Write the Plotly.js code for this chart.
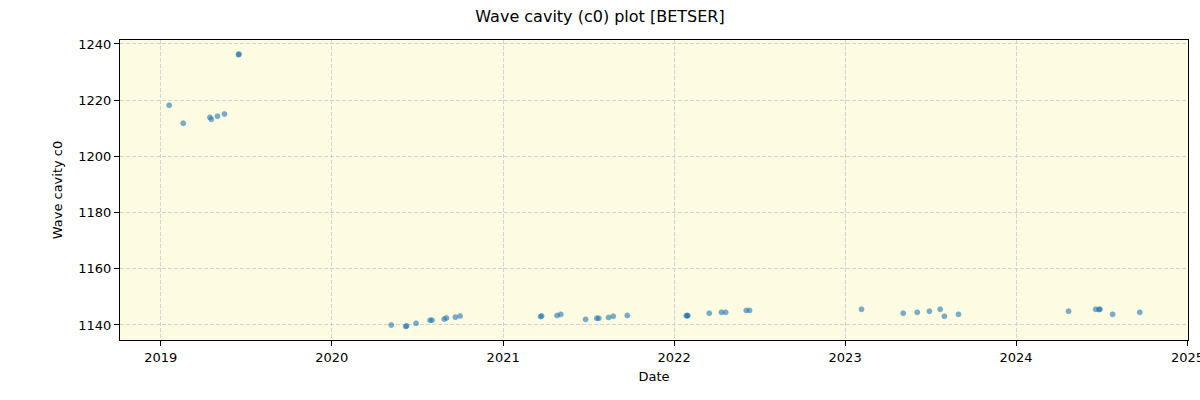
<!DOCTYPE html>
<html>
<head>
<meta charset="utf-8">
<script src="https://cdn.plot.ly/plotly-3.0.1.min.js"></script>
<style>html,body{margin:0;padding:0;background:#fff;}#chart{width:1200px;height:400px;}</style>
</head>
<body>
<div id="chart"></div>
<script>
const dates = [
  "2019-01-19","2019-02-18","2019-04-16","2019-04-19","2019-05-02","2019-05-17","2019-06-16","2019-06-17",
  "2020-05-07","2020-06-07","2020-06-09","2020-06-29","2020-07-29","2020-08-02","2020-08-28","2020-09-02","2020-09-21","2020-10-01",
  "2021-03-22","2021-03-24","2021-04-26","2021-05-04","2021-06-26","2021-07-20","2021-07-24","2021-08-14","2021-08-24","2021-09-23",
  "2022-01-27","2022-01-29","2022-01-30","2022-03-17","2022-04-12","2022-04-21","2022-06-04","2022-06-11",
  "2023-02-05","2023-05-05","2023-06-04","2023-06-30","2023-07-23","2023-08-01","2023-08-31",
  "2024-04-22","2024-06-19","2024-06-26","2024-06-28","2024-07-25","2024-09-21"
];
const c0 = [
  1218.2,1211.8,1213.9,1213.2,1214.3,1215.1,1236.2,1236.4,
  1140.0,1139.5,1139.7,1140.6,1141.7,1141.7,1142.1,1142.5,1142.8,1143.2,
  1143.0,1143.2,1143.4,1143.8,1142.0,1142.4,1142.4,1142.7,1143.1,1143.4,
  1143.3,1143.4,1143.3,1144.2,1144.5,1144.5,1145.2,1145.2,
  1145.6,1144.2,1144.5,1144.9,1145.6,1143.1,1143.8,
  1144.9,1145.6,1145.5,1145.6,1143.8,1144.5
];
const yTicks = [1140,1160,1180,1200,1220,1240];
const xTicks = ["2019-01-01","2020-01-01","2021-01-01","2022-01-01","2023-01-01","2024-01-01","2025-01-01"];
const xTickLabels = ["2019","2020","2021","2022","2023","2024","2025"];

const trace = {
  x: dates, y: c0, type: "scatter", mode: "markers",
  marker: {size: 5, color: "#1f77b4", opacity: 0.6, line: {width: 0.8, color: "#1f77b4"}},
  hoverinfo: "x+y"
};
const axisCommon = {
  showline: true, mirror: true, linecolor: "#000", linewidth: 1,
  ticks: "outside", ticklen: 5, tickcolor: "#000", tickwidth: 1,
  showgrid: true, gridcolor: "#d3d3d3", griddash: "4px,2px", gridwidth: 1,
  zeroline: false, ticklabeloverflow: "allow",
  tickfont: {family: "DejaVu Sans", size: 13, color: "#000"}
};
const layout = {
  width: 1200, height: 400,
  margin: {l: 120, r: 12, t: 40, b: 60},
  paper_bgcolor: "#ffffff",
  plot_bgcolor: "#fdfbe2",
  showlegend: false,
  font: {family: "DejaVu Sans", color: "#000"},
  title: {text: "Wave cavity (c0) plot [BETSER]", x: 0.5, xanchor: "center", y: 0.96, yanchor: "middle",
          font: {family: "DejaVu Sans", size: 16, color: "#000"}},
  xaxis: Object.assign({}, axisCommon, {
    type: "date", range: ["2018-10-06", "2025-01-02"],
    tickmode: "array", tickvals: xTicks, ticktext: xTickLabels,
    title: {text: "Date", standoff: 8, font: {family: "DejaVu Sans", size: 13, color: "#000"}}
  }),
  yaxis: Object.assign({}, axisCommon, {
    range: [1134.66, 1241.42],
    tickmode: "array", tickvals: yTicks, ticktext: yTicks.map(String),
    title: {text: "Wave cavity c0", standoff: 12, font: {family: "DejaVu Sans", size: 13, color: "#000"}}
  })
};
Plotly.newPlot("chart", [trace], layout, {displayModeBar: false, staticPlot: true});
</script>
</body>
</html>
